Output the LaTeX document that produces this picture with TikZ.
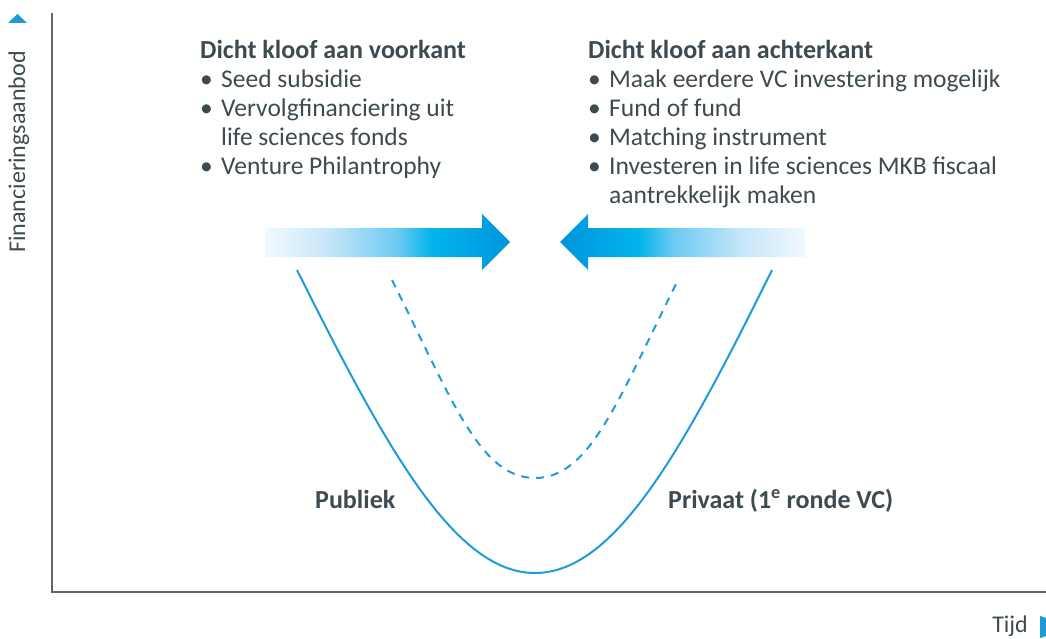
\documentclass[tikz,border=0pt]{standalone}
\usepackage{fontspec}
\setmainfont{Carlito}
\definecolor{axisgrey}{HTML}{5D676C}
\definecolor{textgrey}{HTML}{3E4A51}
\definecolor{curveblue}{HTML}{1E9CD8}
\definecolor{markblue}{HTML}{1E9AD6}
\definecolor{sZ}{HTML}{F2F9FE}
\definecolor{sA}{HTML}{C5E6F8}
\definecolor{sB}{HTML}{6CCAF2}
\definecolor{sC}{HTML}{00B4EB}
\definecolor{sD}{HTML}{00A0E2}
\definecolor{sE}{HTML}{0096DC}
% pale on the tail, deep blue at the head
\pgfdeclarehorizontalshading{gapfill}{100bp}{color(0bp)=(sZ); color(25bp)=(sZ); color(38bp)=(sA); color(52bp)=(sB); color(59bp)=(sC); color(69bp)=(sD); color(75bp)=(sE); color(100bp)=(sE)}
\begin{document}
\begin{tikzpicture}[x=1pt,y=-1pt,
  axis/.style={draw=axisgrey, line width=2pt},
  curve/.style={draw=curveblue, line width=2pt},
  gapcurve/.style={curve, dash pattern=on 8pt off 7pt},
  txt/.style={inner sep=0pt, text=textgrey, font=\fontsize{25.5}{29}\selectfont, anchor=base west},
  boldtxt/.style={txt, font=\bfseries\fontsize{26}{29}\selectfont},
  axlabel/.style={inner sep=0pt, text=textgrey, font=\fontsize{24}{28}\selectfont},
  push/.style={shading=gapfill}]
\useasboundingbox (0,0) rectangle (1046,639);

% axes
\coordinate (origin) at (52,592);
\coordinate (ytop) at (52,13);
\coordinate (xend) at (1046,592);
\draw[axis] (ytop) -- (origin) -- (xend);
\fill[markblue] (8,23) -- (17.5,14) -- (27,23) -- cycle;
\fill[markblue] (1040,616) -- (1075,627) -- (1040,638) -- cycle;
\node[axlabel, rotate=90, anchor=base west] (ylab) at (25,253) {Financieringsaanbod};
\node[axlabel, anchor=base east] (xlab) at (1028,632) {Tijd};

% measures on both sides of the gap
\node[txt] (front) at (200,59) {\begin{tabular}[t]{@{}l@{}}
  {\bfseries\fontsize{26}{29}\selectfont Dicht kloof aan voorkant}\\
  \makebox[21pt][l]{\textbullet}Seed subsidie\\
  \makebox[21pt][l]{\textbullet}Vervolgfinanciering uit\\
  \hspace*{21pt}life sciences fonds\\
  \makebox[21pt][l]{\textbullet}Venture Philantrophy
\end{tabular}};
\node[txt] (back) at (588,59) {\begin{tabular}[t]{@{}l@{}}
  {\bfseries\fontsize{26}{29}\selectfont Dicht kloof aan achterkant}\\
  \makebox[21pt][l]{\textbullet}Maak eerdere VC investering mogelijk\\
  \makebox[21pt][l]{\textbullet}Fund of fund\\
  \makebox[21pt][l]{\textbullet}Matching instrument\\
  \makebox[21pt][l]{\textbullet}Investeren in life sciences MKB fiscaal\\
  \hspace*{21pt}aantrekkelijk maken
\end{tabular}};

% closing arrows
\path[push] (265,228) -- (482,228) -- (482,214) -- (510,242) -- (482,270) -- (482,257) -- (265,257) -- cycle;
\path[push, shading angle=180] (805,228) -- (588,228) -- (588,214) -- (560,242) -- (588,270) -- (588,257) -- (805,257) -- cycle;

% the financing gap
\draw[curve] (297,270) .. controls (387,450) and (455,573) .. (535,573)
  .. controls (615,573) and (683,450) .. (772,270);
\draw[gapcurve] (392,280) .. controls (452,400) and (480,478) .. (535,478)
  .. controls (590,478) and (618,400) .. (678,280);

\node[boldtxt] (pub) at (315,508) {Publiek};
\node[boldtxt] (priv) at (668,508) {Privaat (1\textsuperscript{e} ronde VC)};
\end{tikzpicture}
\end{document}
